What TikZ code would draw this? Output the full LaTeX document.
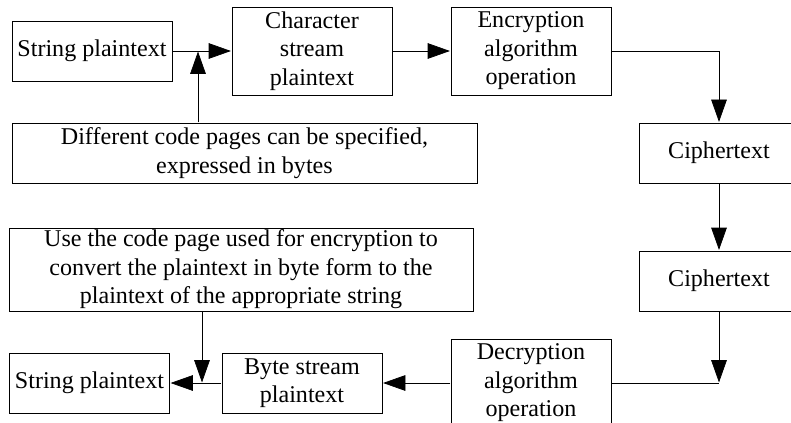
\documentclass[tikz,border=0pt]{standalone}
\usepackage{fontspec}
\setmainfont{Liberation Serif}
\usetikzlibrary{arrows.meta}
\usetikzlibrary{shapes}

\begin{document}
\begin{tikzpicture}
\tikzset{
   node distance = 4.4cm, >={Triangle[length=4.6mm, width=3.2mm]},
   line width = 0.6pt,
   block/.style = {rectangle, draw, inner sep = 0pt, minimum width = 3.2cm, minimum height = 1.2cm, align = center, font = \fontsize{13.7pt}{16.2pt}\selectfont},
   block_tall/.style = {block, minimum height = 1.76cm},
   note/.style = {block, minimum width = 9.3cm}
 }
  \useasboundingbox (0,0) rectangle (15.82,-8.46);
  \clip (0,0) rectangle (15.82,-8.46);

  % encryption row
  \node [block] (plain_in) at (1.84,-1.02) {String plaintext};
  \node [block_tall] (char_stream) [right of = plain_in] {Character\\stream\\plaintext};
  \node [block_tall] (encrypt) [right of = char_stream, xshift = -0.02cm] {Encryption\\algorithm\\operation};
  \node [note] (code_page) [below of = plain_in, node distance = 2.04cm, xshift = 3.05cm] {Different code pages can be specified,\\expressed in bytes};
  \node [block] (cipher_first) [right of = encrypt, xshift = -0.64cm, yshift = -2.04cm] {Ciphertext};
  \node [block] (cipher_second) [below of = cipher_first, node distance = 2.56cm] {Ciphertext};

  % decryption row
  \node [block] (plain_out) at (1.79,-7.66) {String plaintext};
  \node [block] (byte_stream) [right of = plain_out, node distance = 4.25cm] {Byte stream\\plaintext};
  \node [block_tall] (decrypt) [right of = byte_stream, node distance = 4.58cm] {Decryption\\algorithm\\operation};
  \node [note, minimum width = 9.28cm, minimum height = 1.66cm] (restore) [above of = plain_out, node distance = 2.27cm, xshift = 3.03cm] {Use the code page used for encryption to\\convert the plaintext in byte form to the\\plaintext of the appropriate string};

  \coordinate (merge_top) at (3.96,-1.02);
  \coordinate (merge_bottom) at (4.04,-7.66);
  \coordinate (turn) at (cipher_second |- decrypt);

  \draw [->] (plain_in) -- (char_stream);
  \draw [->] (code_page.north -| merge_top) -- (merge_top);
  \draw [->] (char_stream) -- (encrypt);
  \draw [->] (encrypt.east) -| (cipher_first.north);
  \draw [->] (cipher_first) -- (cipher_second);
  \draw [->] (cipher_second) -- (turn);
  \draw (decrypt) -- (turn);
  \draw [->] (decrypt) -- (byte_stream);
  \draw [->] (byte_stream) -- (plain_out);
  \draw [->] (restore.south -| merge_bottom) -- (merge_bottom);

\end{tikzpicture}
\end{document}
